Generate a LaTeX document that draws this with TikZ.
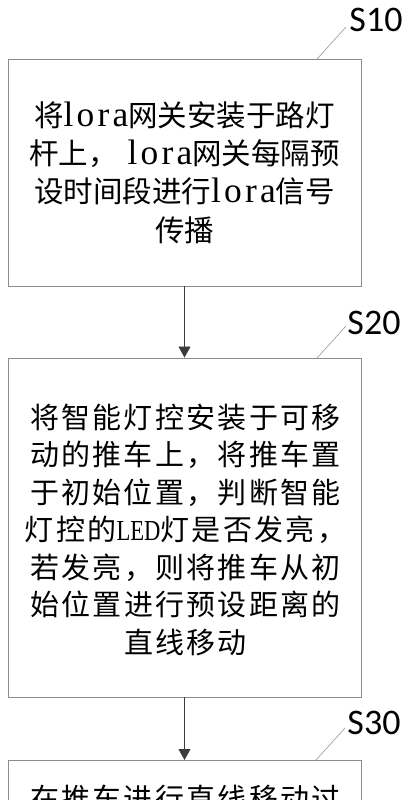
\documentclass[tikz,border=0pt]{standalone}
\usepackage{fontspec}
\setmainfont{Liberation Serif}
\newfontfamily\cjk{Noto Sans CJK SC}
\newfontfamily\cjkw{Noto Sans CJK SC}[LetterSpace=8]
\newfontfamily\lat{Liberation Serif}[Scale=1.2, LetterSpace=9]
\newfontfamily\latn{Liberation Serif}[Scale=1.0, FakeStretch=0.78]
\newfontfamily\lbl{Carlito}
\usetikzlibrary{arrows.meta}
\definecolor{boxgray}{RGB}{140,140,140}
\definecolor{leadgray}{RGB}{150,150,150}
\definecolor{arrowgray}{RGB}{60,60,60}
\tikzset{
  stepbox/.style={draw=boxgray, line width=0.9pt, minimum width=353pt, inner sep=0pt},
  boxtext/.style={align=center, inner sep=0pt},
  steplabel/.style={font=\lbl\fontsize{36}{40}\selectfont, inner sep=0pt, text=black},
  leader/.style={draw=leadgray, line width=0.6pt},
  flow/.style={draw=arrowgray, line width=0.8pt, -{Triangle[length=11pt,width=12pt]}}
}
\begin{document}
\begin{tikzpicture}[x=1pt,y=-1pt]
\useasboundingbox (0,0) rectangle (410,800);
% boxes
\node[stepbox, minimum height=227pt] (b1) at (184.5,172.5) {};
\node[stepbox, minimum height=339pt] (b2) at (184.5,527.5) {};
\node[stepbox, minimum height=200pt, anchor=north] (b3) at (184.5,760) {};
% texts
\node[boxtext, font=\cjk\fontsize{29.5}{38.3}\selectfont] (t1) at (184.5,172.5)
  {将{\lat lora}网关安装于路灯\\杆上，\hspace{10pt}{\lat lora}网关每隔预\\设时间段进行{\lat lora}信号\\传播};
\node[boxtext, font=\cjkw\fontsize{29}{37.5}\selectfont] (t2) at (185.5,529.5)
  {将智能灯控安装于可移\\动的推车上，将推车置\\于初始位置，判断智能\\灯控的{\latn LED}灯是否发亮，\\若发亮，则将推车从初\\始位置进行预设距离的\\直线移动};
\node[boxtext, font=\cjkw\fontsize{29}{37.5}\selectfont] (t3) at (185.5,798)
  {在推车进行直线移动过};
% labels
\node[steplabel] (s1) at (376,19.5) {S10};
\node[steplabel] (s2) at (374,323) {S20};
\node[steplabel] (s3) at (374,723) {S30};
% leader lines
\coordinate (c1a) at (317,59);
\coordinate (c1b) at (346,27);
\coordinate (c2a) at (317,358);
\coordinate (c2b) at (346,326);
\coordinate (c3a) at (316,760);
\coordinate (c3b) at (345,728);
\draw[leader] (c1a) -- (c1b);
\draw[leader] (c2a) -- (c2b);
\draw[leader] (c3a) -- (c3b);
% flow arrows
\draw[flow] (b1.south) -- (b2.north);
\draw[flow] (b2.south) -- (b3.north);
\end{tikzpicture}
\end{document}
